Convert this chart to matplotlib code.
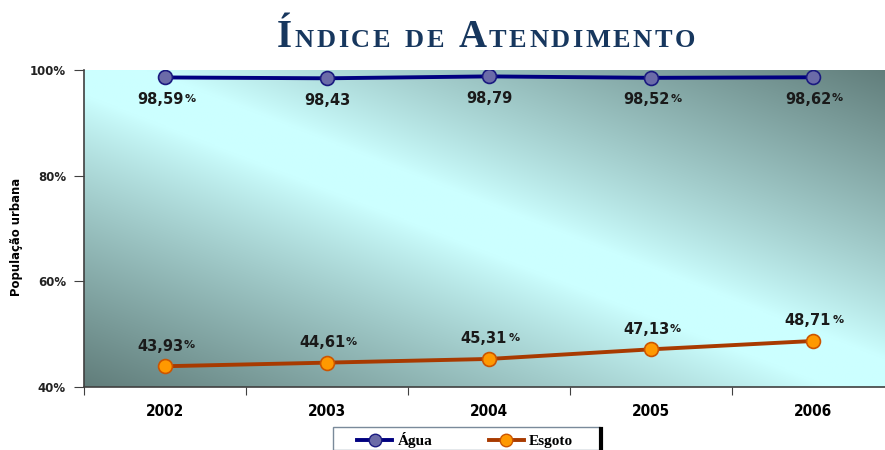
import numpy as np
import matplotlib
matplotlib.use("Agg")
import matplotlib.pyplot as plt
from matplotlib.lines import Line2D
from matplotlib.patches import Rectangle

# data
years = ["2002", "2003", "2004", "2005", "2006"]
agua = [98.59, 98.43, 98.79, 98.52, 98.62]
esgoto = [43.93, 44.61, 45.31, 47.13, 48.71]
agua_pct = [True, False, False, True, True]
esgoto_pct = [True, True, True, True, True]
yticks = [40, 60, 80, 100]

fig = plt.figure(figsize=(8.85, 4.5), dpi=100)
ax = fig.add_axes([84 / 885, 1 - 387 / 450, 810 / 885, 317 / 450])

# diagonal gradient background: light along the main diagonal, dark in the
# bottom-left and top-right corners
n = 300
u = np.linspace(0, 1, n)
v = np.linspace(0, 1, n)
U, V = np.meshgrid(u, v)
f = np.clip((np.abs(U - V) - 0.08) / 0.92, 0, 1) ** 0.9
light = np.array([0.80, 1.0, 1.0])
dark = np.array([0.38, 0.49, 0.48])
img = light[None, None, :] + (dark - light)[None, None, :] * f[:, :, None]
ax.imshow(img, extent=[0, 1, 0, 1], transform=ax.transAxes, aspect="auto",
          origin="upper", zorder=0, interpolation="bilinear")

x = np.arange(len(years))
ax.plot(x, agua, color="#000080", lw=2.8, marker="o", ms=10,
        mfc="#6B6BA8", mec="#1A1A80", mew=1.2, zorder=3, label="Água")
ax.plot(x, esgoto, color="#A83A00", lw=2.8, marker="o", ms=10,
        mfc="#FF9900", mec="#CC5500", mew=1.2, zorder=3, label="Esgoto")

ax.set_xlim(-0.5, 4.5)
ax.set_ylim(40, 100)


def fmt(val):
    return f"{val:.2f}".replace(".", ",")


def value_label(xv, yv, pct, dy):
    shift = -5 if pct else 0
    t1 = ax.annotate(fmt(yv), (xv, yv), xytext=(shift, dy), textcoords="offset pixels",
                     ha="center", va="center", fontsize=10.5, fontweight="bold",
                     color="#1A1A1A", zorder=5)
    if pct:
        ax.annotate("%", xy=(1, 0.22), xycoords=t1, xytext=(1, 0),
                    textcoords="offset pixels", ha="left", va="bottom",
                    fontsize=8, fontweight="bold", color="#1A1A1A", zorder=5)


for xi, yv, p in zip(x, agua, agua_pct):
    value_label(xi, yv, p, -22)
for xi, yv, p in zip(x, esgoto, esgoto_pct):
    value_label(xi, yv, p, 20)

# axes styling
for s in ["top", "right"]:
    ax.spines[s].set_visible(False)
for s in ["left", "bottom"]:
    ax.spines[s].set_color("#404040")
    ax.spines[s].set_linewidth(1.2)

ax.set_yticks(yticks)
ax.set_yticklabels([f"{y}%" for y in yticks], fontsize=8.5, fontweight="bold",
                   color="#222222")
ax.tick_params(axis="y", direction="out", length=7, color="#404040", pad=6)

ax.set_xticks(np.arange(-0.5, 5, 1))
ax.set_xticklabels([])
ax.tick_params(axis="x", which="major", direction="out", length=6, color="#404040")
ax.set_xticks(x, minor=True)
ax.set_xticklabels(years, minor=True, fontsize=11, fontweight="bold",
                   fontstretch="condensed", family="DejaVu Sans")
ax.tick_params(axis="x", which="minor", length=0, pad=12)

fig.text(17 / 885, 1 - 237 / 450, "População urbana", rotation=90, ha="center",
         va="center", fontsize=9.3, fontweight="bold", fontstretch="condensed",
         family="DejaVu Sans")

# title in small caps, chained letter by letter
title_color = "#17375E"
pieces = [("Í", 28), ("NDICE", 19), (" ", 0), ("DE", 19), (" ", 0), ("A", 28),
          ("TENDIMENTO", 19)]
ybase = 1 - 47 / 450
prev = fig.text(277 / 885, ybase, pieces[0][0], fontsize=pieces[0][1],
                fontweight="bold", family="Liberation Serif", color=title_color,
                ha="left", va="baseline")
gap = 0
for word, size in pieces[1:]:
    if word == " ":
        gap = 12
        continue
    for ch in word:
        prev = fig.add_artist(
            plt.Annotation(ch, xy=(1, ybase), xycoords=(prev, "figure fraction"),
                           xytext=(2.6 + gap, 0), textcoords="offset pixels",
                           fontsize=size, fontweight="bold",
                           family="Liberation Serif", color=title_color,
                           ha="left", va="baseline"))
        gap = 0

# legend: frame drawn by hand, entries placed inside it
fig.add_artist(Rectangle((333 / 885, 0), (600 - 333) / 885, 1 - 427 / 450,
                         transform=fig.transFigure, facecolor="white",
                         edgecolor="#7A8A9A", lw=1.0))
fig.add_artist(Line2D([601 / 885, 601 / 885], [1 - 429 / 450, 0], color="black",
                      lw=3, transform=fig.transFigure))
handles = [
    Line2D([], [], color="#000080", lw=2.8, marker="o", ms=9, mfc="#6B6BA8",
           mec="#1A1A80"),
    Line2D([], [], color="#A83A00", lw=2.8, marker="o", ms=9, mfc="#FF9900",
           mec="#CC5500"),
]
leg = fig.legend(handles, ["Água", "Esgoto"], loc="upper left",
                 bbox_to_anchor=(357 / 885, 1 - 432 / 450), ncol=2,
                 frameon=False, handlelength=2.3, handletextpad=0.35,
                 columnspacing=3.7, borderpad=0, borderaxespad=0,
                 prop={"family": "Liberation Serif", "weight": "bold", "size": 11})

fig.savefig("out.png", dpi=100)
